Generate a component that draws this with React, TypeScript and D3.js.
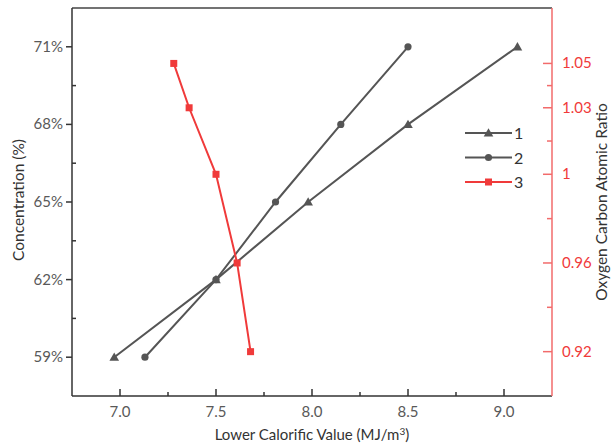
import React from 'react';
import * as d3 from 'd3';

const width = 613;
const height = 447;
const margin = { top: 8, right: 61, bottom: 51, left: 72 };
const gray = '#555555';
const red = '#f03a3a';
const axisRed = '#f26b6b';
const font = 'Lato, "Open Sans", sans-serif';

// concentration (%) for series 1 and 2
const concentration = [59, 62, 65, 68, 71];
const lcv1 = [6.97, 7.5, 7.98, 8.5, 9.07];
const lcv2 = [7.13, 7.5, 7.81, 8.15, 8.5];
// oxygen carbon atomic ratio for series 3
const ratio = [1.05, 1.03, 1, 0.96, 0.92];
const lcv3 = [7.28, 7.36, 7.5, 7.61, 7.68];

const xTicks = [7.0, 7.5, 8.0, 8.5, 9.0];
const xMinor = [7.25, 7.75, 8.25, 8.75];
const leftTicks = [59, 62, 65, 68, 71];
const leftMinor = [60.5, 63.5, 66.5, 69.5];
const rightTicks = [0.92, 0.96, 1, 1.03, 1.05];
const rightMinor = [0.94, 0.98, 1.015, 1.04];
const legendLabels = ['1', '2', '3'];

const x0 = margin.left;
const x1 = width - margin.right;
const y0 = margin.top;
const y1 = height - margin.bottom;

const xScale = d3.scaleLinear().domain([6.75, 9.25]).range([x0, x1]);
const yLeft = d3.scaleLinear().domain([57.5, 72.5]).range([y1, y0]);
const yRight = d3.scaleLinear().domain([0.9, 1.075]).range([y1, y0]);

const triangle = d3.symbol().type(d3.symbolTriangle).size(40);

function Marker({ kind, x, y }: { kind: number; x: number; y: number }) {
  if (kind === 0) return <path d={triangle()!} transform={`translate(${x},${y + 0.8})`} fill={gray} />;
  if (kind === 1) return <circle cx={x} cy={y} r={3.6} fill={gray} />;
  return <rect x={x - 3.5} y={y - 3.5} width={7} height={7} fill={red} />;
}

export default function App() {
  const line1 = d3.line<number>().x((d, i) => xScale(lcv1[i])).y(d => yLeft(d))(concentration);
  const line2 = d3.line<number>().x((d, i) => xScale(lcv2[i])).y(d => yLeft(d))(concentration);
  const line3 = d3.line<number>().x((d, i) => xScale(lcv3[i])).y(d => yRight(d))(ratio);

  return (
    <svg width={width} height={height} style={{ position: 'absolute', left: 0, top: 0, background: '#fff' }}>
      <g fontFamily={font}>
        {/* frame */}
        <line x1={x0} x2={x1} y1={y0} y2={y0} stroke="#444" strokeWidth={1.5} />
        <line x1={x0} x2={x1} y1={y1} y2={y1} stroke="#333" strokeWidth={1.5} />
        <line x1={x0} x2={x0} y1={y0} y2={y1} stroke="#333" strokeWidth={1.5} />
        <line x1={x1} x2={x1} y1={y0} y2={y1} stroke={axisRed} strokeWidth={1.5} />

        {/* bottom axis */}
        {xTicks.map(t => (
          <g key={t}>
            <line x1={xScale(t)} x2={xScale(t)} y1={y1} y2={y1 - 7} stroke="#333" strokeWidth={1.5} />
            <text x={xScale(t)} y={y1 + 21} textAnchor="middle" fontSize={15} fill="#595959">
              {d3.format('.1f')(t)}
            </text>
          </g>
        ))}
        {xMinor.map(t => (
          <line key={t} x1={xScale(t)} x2={xScale(t)} y1={y1} y2={y1 - 4} stroke="#333" strokeWidth={1.5} />
        ))}
        <text x={(x0 + x1) / 2} y={y1 + 44} textAnchor="middle" fontSize={15} fill="#333">
          Lower Calorific Value (MJ/m<tspan dy={-5} fontSize={10}>3</tspan><tspan dy={5}>)</tspan>
        </text>

        {/* left axis */}
        {leftTicks.map(t => (
          <g key={t}>
            <line x1={x0 - 6} x2={x0} y1={yLeft(t)} y2={yLeft(t)} stroke="#333" strokeWidth={1.5} />
            <text x={x0 - 9} y={yLeft(t) + 5} textAnchor="end" fontSize={15} fill="#595959">
              {t}%
            </text>
          </g>
        ))}
        {leftMinor.map(t => (
          <line key={t} x1={x0} x2={x0 + 4} y1={yLeft(t)} y2={yLeft(t)} stroke="#333" strokeWidth={1.5} />
        ))}
        <text transform={`translate(24,${(y0 + y1) / 2 - 2}) rotate(-90)`} textAnchor="middle" fontSize={15.5} fill="#333">
          Concentration (%)
        </text>

        {/* right axis */}
        {rightTicks.map(t => (
          <g key={t}>
            <line x1={x1 - 9} x2={x1} y1={yRight(t)} y2={yRight(t)} stroke={axisRed} strokeWidth={1.5} />
            <text x={x1 + 10} y={yRight(t) + 5} textAnchor="start" fontSize={15} fill={red}>
              {t}
            </text>
          </g>
        ))}
        {rightMinor.map(t => (
          <line key={t} x1={x1 - 5} x2={x1} y1={yRight(t)} y2={yRight(t)} stroke={axisRed} strokeWidth={1.5} />
        ))}
        <text transform={`translate(607,${(y0 + y1) / 2}) rotate(-90)`} textAnchor="middle" fontSize={15.5} fill="#333">
          Oxygen Carbon Atomic Ratio
        </text>

        {/* series */}
        <path d={line1!} fill="none" stroke={gray} strokeWidth={2} />
        <path d={line2!} fill="none" stroke={gray} strokeWidth={2} />
        <path d={line3!} fill="none" stroke={red} strokeWidth={2} />
        {concentration.map((c, i) => <Marker key={'a' + i} kind={0} x={xScale(lcv1[i])} y={yLeft(c)} />)}
        {concentration.map((c, i) => <Marker key={'b' + i} kind={1} x={xScale(lcv2[i])} y={yLeft(c)} />)}
        {ratio.map((r, i) => <Marker key={'c' + i} kind={2} x={xScale(lcv3[i])} y={yRight(r)} />)}

        {/* legend */}
        {legendLabels.map((l, i) => {
          const ly = 133 + i * 24.5;
          return (
            <g key={l}>
              <line x1={465} x2={512} y1={ly} y2={ly} stroke={i === 2 ? red : gray} strokeWidth={2} />
              <Marker kind={i} x={488.5} y={ly} />
              <text x={514} y={ly + 6} fontSize={16} fill="#333">{l}</text>
            </g>
          );
        })}
      </g>
    </svg>
  );
}
